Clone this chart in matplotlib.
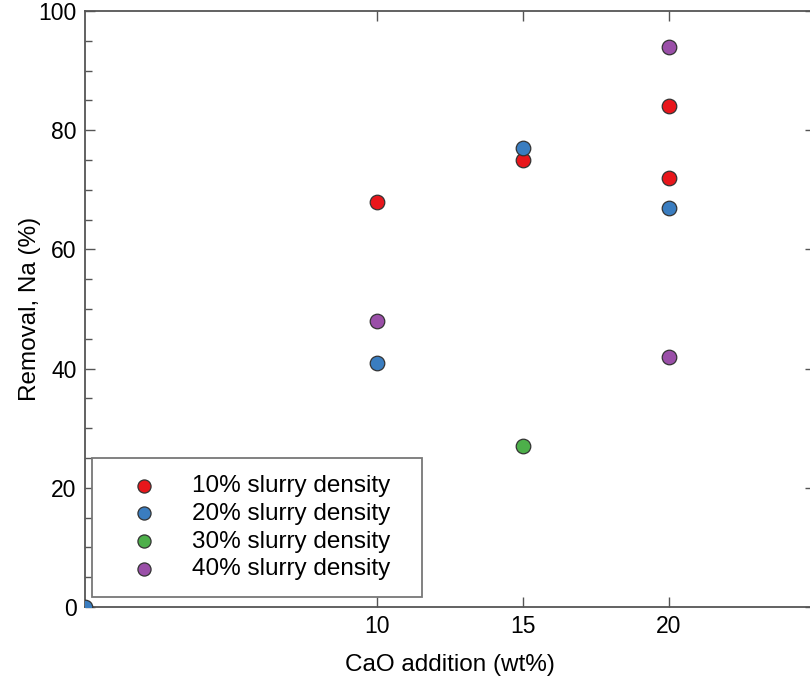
import matplotlib
matplotlib.use("Agg")
import matplotlib.pyplot as plt
from matplotlib.ticker import MultipleLocator, FixedLocator

plt.rcParams['font.family'] = ['Liberation Sans', 'DejaVu Sans']

# Data
series_labels = ["10% slurry density", "20% slurry density",
                 "30% slurry density", "40% slurry density"]
cao_10 = [10, 15, 20, 20]
na_10 = [68, 75, 84, 72]
cao_20 = [0, 10, 15, 20]
na_20 = [0, 41, 77, 67]
cao_30 = [15]
na_30 = [27]
cao_40 = [10, 20, 20]
na_40 = [48, 94, 42]
x_ticks = [10, 15, 20]
y_ticks = [0, 20, 40, 60, 80, 100]

colors = ["#e8161b", "#3a7dc0", "#4daf4a", "#9a4fa8"]

fig = plt.figure(figsize=(8.10, 6.81), dpi=100)
ax = fig.add_axes([85/810, 1-607/681, 730/810, (607-11)/681])

for xs, ys, c, lab in zip([cao_10, cao_20, cao_30, cao_40],
                          [na_10, na_20, na_30, na_40], colors, series_labels):
    ax.scatter(xs, ys, s=110, color=c, edgecolors="#333333", linewidths=0.9,
               label=lab, zorder=3)

ax.set_xlim(0, 25)
ax.set_ylim(0, 100)
ax.xaxis.set_major_locator(FixedLocator(x_ticks))
ax.yaxis.set_major_locator(FixedLocator(y_ticks))
ax.yaxis.set_minor_locator(MultipleLocator(5))
ax.tick_params(axis='both', which='both', direction='in', top=True, right=True,
               color="#555555", width=1.0)
ax.tick_params(axis='both', which='major', length=7, labelsize=16.5, pad=6)
ax.tick_params(axis='both', which='minor', length=5)
ax.tick_params(axis='y', which='minor', right=False)
for sp in ax.spines.values():
    sp.set_color("#555555")
    sp.set_linewidth(1.3)

ax.set_xlabel("CaO addition (wt%)", fontsize=17.5, labelpad=11)
ax.set_ylabel("Removal, Na (%)", fontsize=17.5, labelpad=-2)

leg = ax.legend(loc='lower left',
                bbox_to_anchor=((92-85)/730, (607-597)/596, (422-92)/730, (597-458)/596),
                mode='expand', borderaxespad=0, fontsize=17.5, frameon=True,
                fancybox=False, edgecolor="#777777", framealpha=1,
                borderpad=0.68, handlelength=2.9, handletextpad=0.55,
                labelspacing=0.24, scatterpoints=1, markerscale=0.9)
leg.get_frame().set_linewidth(1.3)

fig.savefig("out.png", dpi=100)
